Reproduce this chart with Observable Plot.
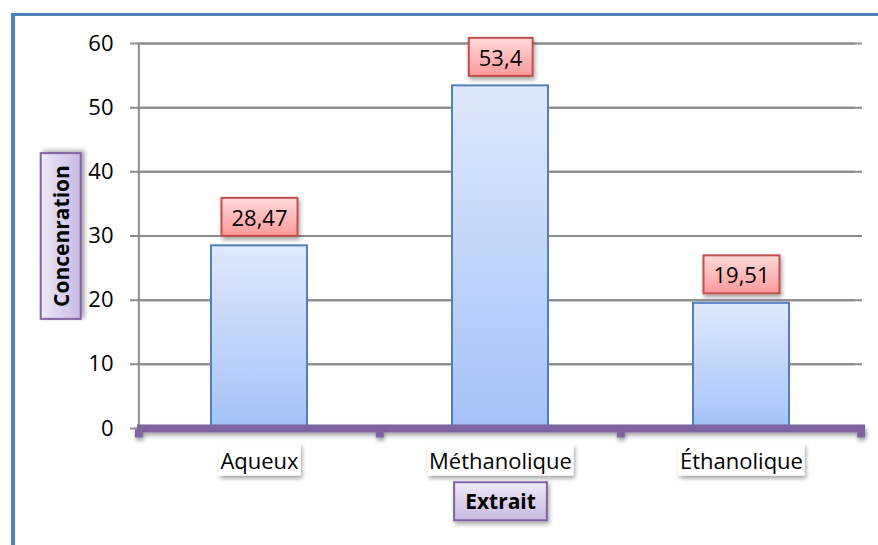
<!DOCTYPE html>
<html>
<head>
<meta charset="utf-8">
<style>
html,body{margin:0;padding:0;background:#fff;}
#wrap{position:relative;width:878px;height:545px;overflow:hidden;}
#border{position:absolute;left:11px;top:13px;width:1000px;height:1000px;border-left:4px solid #4f81bd;border-top:3px solid #4f81bd;pointer-events:none;}
#wrap svg{position:absolute;left:0;top:0;}
</style>
</head>
<body>
<div id="wrap"><div id="border"></div></div>
<script src="https://cdn.jsdelivr.net/npm/d3@7"></script>
<script src="https://cdn.jsdelivr.net/npm/@observablehq/plot@0.6"></script>
<script>
const categories = ["Aqueux", "Méthanolique", "Éthanolique"];
const values = [28.47, 53.4, 19.51];
const valueLabels = ["28,47", "53,4", "19,51"];
const yTicks = [0, 10, 20, 30, 40, 50, 60];
const xTitle = "Extrait";
const yTitle = "Concenration";

const data = categories.map((c, i) => ({cat: c, value: values[i], label: valueLabels[i]}));

const W = 878, H = 545, mL = 138, mR = 16, mT = 43, mB = 117;
const padIn = 0.6, padOut = 0.3;
const step = (W - mL - mR) / (categories.length - padIn + 2 * padOut);

const GRID = "#8c8c8c", PURPLE = "#8064a2", BARFILL = "#bcd3f9";

const chart = Plot.plot({
  width: W, height: H,
  marginLeft: mL, marginRight: mR, marginTop: mT, marginBottom: mB,
  style: {fontFamily: "'Open Sans', 'Noto Sans', sans-serif", fontSize: "22px", color: "#000", background: "transparent", overflow: "visible"},
  x: {domain: categories, paddingInner: padIn, paddingOuter: padOut, axis: null, label: null},
  y: {domain: [0, 60], ticks: yTicks, tickSize: 0, tickPadding: 25, label: null, tickFormat: d => String(d)},
  marks: [
    Plot.ruleY(yTicks, {stroke: GRID, strokeWidth: 2}),
    Plot.ruleY(yTicks, {stroke: GRID, strokeWidth: 2, dx: -8}),
    Plot.ruleX([categories[0]], {y1: 0, y2: 60, dx: -step / 2, stroke: GRID, strokeWidth: 2}),
    Plot.barY(data, {x: "cat", y: "value", fill: BARFILL, stroke: "#4f81bd", strokeWidth: 2}),
    Plot.ruleY([0], {stroke: PURPLE, strokeWidth: 8, dx: -1, insetRight: -4}),
    Plot.dot(categories, {x: d => d, y: () => 0, dx: -step / 2, dy: 5, symbol: "square", r: 4.5, fill: PURPLE, stroke: "none"}),
    Plot.dot([categories[categories.length - 1]], {x: d => d, y: () => 0, dx: step / 2 - 1, dy: 5, symbol: "square", r: 4.5, fill: PURPLE, stroke: "none"}),
    Plot.text(data, {x: "cat", y: "value", text: "label", dy: -27, fill: "#000", fontSize: 22}),
    Plot.text(categories, {x: d => d, y: () => 0, text: d => d, dy: 33, fill: "#000", fontSize: 22}),
    Plot.text([xTitle], {frameAnchor: "bottom", text: d => d, dy: 74, textAnchor: "middle", lineAnchor: "middle", fill: "#000", fontSize: 21, fontWeight: "bold"}),
    Plot.text([yTitle], {frameAnchor: "left", text: d => d, dx: -76.5, rotate: -90, textAnchor: "middle", lineAnchor: "middle", fill: "#000", fontSize: 21, fontWeight: "bold"})
  ]
});

document.getElementById("wrap").insertBefore(chart, document.getElementById("border"));

const NS = "http://www.w3.org/2000/svg";
const svg = chart.tagName.toLowerCase() === "svg" ? chart : chart.querySelector("svg");
const defs = document.createElementNS(NS, "defs");
defs.innerHTML = `
<linearGradient id="barGrad" x1="0" y1="0" x2="0" y2="1">
  <stop offset="0" stop-color="#dfe9fc"/><stop offset="1" stop-color="#a4c2f8"/>
</linearGradient>
<linearGradient id="lblGrad" x1="0" y1="0" x2="0" y2="1">
  <stop offset="0" stop-color="#ffd9d9"/><stop offset="1" stop-color="#ff9a9a"/>
</linearGradient>
<linearGradient id="ttlGrad" x1="0" y1="0" x2="0" y2="1">
  <stop offset="0" stop-color="#efe9f7"/><stop offset="1" stop-color="#c9b9e2"/>
</linearGradient>
<filter id="shadow" x="-20%" y="-20%" width="150%" height="160%">
  <feDropShadow dx="1.5" dy="3" stdDeviation="2" flood-color="#000" flood-opacity="0.35"/>
</filter>
<filter id="lineShadow" filterUnits="userSpaceOnUse" x="0" y="0" width="${W}" height="${H}">
  <feDropShadow dx="1" dy="3" stdDeviation="2" flood-color="#000" flood-opacity="0.35"/>
</filter>`;
svg.insertBefore(defs, svg.firstChild);

svg.querySelectorAll(`[fill="${BARFILL}"]`).forEach(el => el.setAttribute("fill", "url(#barGrad)"));
svg.querySelectorAll(`[stroke="${PURPLE}"], [fill="${PURPLE}"]`).forEach(el => el.setAttribute("filter", "url(#lineShadow)"));

function boxText(textEl, o) {
  const bb = textEl.getBBox();
  const r = document.createElementNS(NS, "rect");
  const w = o.w != null ? o.w : bb.width + 2 * o.padX;
  const h = o.h != null ? o.h : bb.height + 2 * o.padY;
  const cx = bb.x + bb.width / 2, cy = bb.y + bb.height / 2 + (o.offY || 0);
  r.setAttribute("x", cx - w / 2);
  r.setAttribute("y", cy - h / 2);
  r.setAttribute("width", w);
  r.setAttribute("height", h);
  r.setAttribute("fill", o.fill);
  r.setAttribute("stroke", o.stroke || "none");
  r.setAttribute("stroke-width", o.strokeWidth || 0);
  r.setAttribute("filter", "url(#shadow)");
  const t = textEl.getAttribute("transform");
  if (t) r.setAttribute("transform", t);
  textEl.parentNode.insertBefore(r, textEl);
}

const texts = Array.from(svg.querySelectorAll("text"));
texts.forEach(t => {
  const s = t.textContent;
  if (valueLabels.includes(s)) boxText(t, {padX: 10, h: 38, fill: "url(#lblGrad)", stroke: "#c0504d", strokeWidth: 2});
  else if (categories.includes(s)) boxText(t, {padX: 1.5, h: 32, fill: "#fff"});
  else if (s === xTitle) boxText(t, {padX: 11, h: 38, fill: "url(#ttlGrad)", stroke: PURPLE, strokeWidth: 2});
  else if (s === yTitle) boxText(t, {padX: 12, h: 40, fill: "url(#ttlGrad)", stroke: PURPLE, strokeWidth: 2});
});
</script>
</body>
</html>
